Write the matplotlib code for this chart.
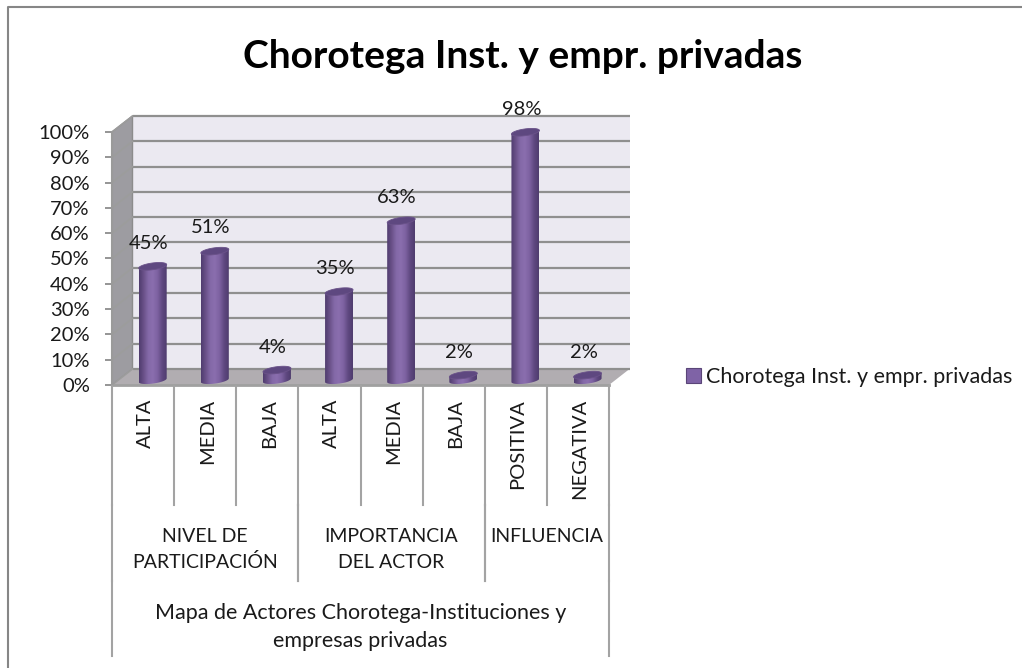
import numpy as np
import matplotlib
matplotlib.use("Agg")
import matplotlib.pyplot as plt
from matplotlib.lines import Line2D
from matplotlib.patches import Polygon, Patch
from matplotlib.transforms import Affine2D
from matplotlib.colors import LinearSegmentedColormap

# ---- data ----
title = "Chorotega Inst. y empr. privadas"
series_name = "Chorotega Inst. y empr. privadas"
categories = ["ALTA", "MEDIA", "BAJA", "ALTA", "MEDIA", "BAJA", "POSITIVA", "NEGATIVA"]
values = [45, 51, 4, 35, 63, 2, 98, 2]
groups = ["NIVEL DE\nPARTICIPACIÓN", "IMPORTANCIA\nDEL ACTOR", "INFLUENCIA"]
group_spans = [(0, 3), (3, 6), (6, 8)]
outer_label = "Mapa de Actores Chorotega-Instituciones y\nempresas privadas"
y_ticks = list(range(0, 101, 10))

FONT = "Lato"
TXT = "#1a1a1a"
W, H = 1022, 668
fig = plt.figure(figsize=(W / 100, H / 100), dpi=100, facecolor="white")

# axes: front plane of the 3-D box
L, R, T, B = 112, 609, 132, 385
ax = fig.add_axes([L / W, 1 - B / H, (R - L) / W, (B - T) / H])
ax.patch.set_alpha(0)
for s in ax.spines.values():
    s.set_visible(False)

ux = (R - L) / 8      # px per category
uy = (B - T) / 100    # px per percent
dx = 20.5 / ux        # depth, data units
dy = 16.0 / uy

GRID = "#8f8f8f"
GRID_L = "#9c9c9c"
ax.add_patch(Polygon([(dx, dy), (8 + dx, dy), (8 + dx, 100 + dy), (dx, 100 + dy)],
                     fc="#ebe9f1", ec="none", clip_on=False, zorder=1))
ax.add_patch(Polygon([(0, 0), (dx, dy), (dx, 100 + dy), (0, 100)],
                     fc="#9d9ca1", ec="#8c8c8c", lw=1, clip_on=False, zorder=1))
ax.add_patch(Polygon([(0, 0), (8, 0), (8 + dx, dy), (dx, dy)],
                     fc="#b1adb1", ec="none", clip_on=False, zorder=1))
for t in y_ticks:
    ax.plot([dx, 8 + dx], [t + dy, t + dy], color=GRID, lw=1.6, clip_on=False, zorder=2,
            solid_capstyle="butt")
    ax.plot([0, dx], [t, t + dy], color=GRID_L, lw=1.2, clip_on=False, zorder=2)
ax.plot([0, 8], [0, 0], color="#a0a0a0", lw=2, clip_on=False, zorder=3)
ax.plot([0, 0], [0, 100], color="#9a9a9a", lw=1.5, clip_on=False, zorder=3)

# ---- cylinders ----
cmap = LinearSegmentedColormap.from_list(
    "cyl", ["#4f3c6e", "#6a5189", "#8469a8", "#8a6eae", "#7d62a1", "#5f4880", "#4f3c6e"])
grad = np.linspace(0, 1, 128).reshape(1, -1)
half = 14 / ux
ry = 3.4 / uy
tilt = 1.8 / uy
th = np.linspace(0, 2 * np.pi, 73)
base = 4.8 / uy
for i, v in enumerate(values):
    cx = i + 0.5 + 0.155
    top_y = base + v
    ex = cx + half * np.cos(th)
    ey_top = top_y + ry * np.sin(th) + tilt * np.cos(th)
    low = th[th >= np.pi]
    body_x = np.r_[cx - half, cx + half * np.cos(low), cx + half, cx - half]
    body_y = np.r_[top_y - tilt, base + ry * np.sin(low) + tilt * np.cos(low), top_y + tilt, top_y - tilt]
    img = ax.imshow(grad, cmap=cmap, extent=(cx - half, cx + half, base - ry - tilt, top_y + ry + tilt),
                    aspect="auto", zorder=4, interpolation="bilinear")
    img.set_clip_path(Polygon(np.c_[body_x, body_y], transform=ax.transData))
    ax.add_patch(Polygon(np.c_[ex, ey_top], fc="#5e4880", ec="#6a5289", lw=0.6, clip_on=False, zorder=5))
    ax.text(cx - 0.065, top_y + 3.2 / uy + (11.5 / uy if v > 10 else 10.5 / uy), f"{v}%", ha="center", va="bottom",
            fontsize=14.5, family=FONT, color=TXT, zorder=6, clip_on=False)
ax.set_xlim(0, 8)
ax.set_ylim(0, 100)

# ---- axes ticks ----
ax.set_yticks(y_ticks)
ax.set_yticklabels([f"{t}%" for t in y_ticks], fontsize=14.5, family=FONT, color=TXT)
ax.tick_params(axis="y", length=5, width=1.3, color="#8c8c8c", pad=11)
ax.set_xticks(np.arange(8) + 0.5)
ax.set_xticklabels(categories, rotation=90, fontsize=14.5, family=FONT, color=TXT, va="top", ha="center")
ax.tick_params(axis="x", length=0, pad=10)
for lab in ax.get_xticklabels():
    lab.set_transform(lab.get_transform() + Affine2D().translate(2, 0))

# ---- multi-level category dividers ----
pixel = Affine2D().scale(1, -1).translate(0, H)
def vline(x, y0, y1, color="#a3a3a3", lw=1.5):
    fig.add_artist(Line2D([x, x], [y0, y1], color=color, lw=lw, transform=pixel))
def xpx(c):
    return L + c * ux

for c in range(9):
    vline(xpx(c), 386, 505)
for (s, e), g in zip(group_spans, groups):
    vline(xpx(s), 505, 581)
    vline(xpx(e), 505, 581)
    yc = 549.5 if "\n" in g else 536
    fig.text(xpx((s + e) / 2) / W, 1 - yc / H, g, ha="center", va="center", fontsize=14,
             family=FONT, color=TXT, linespacing=1.6)
vline(xpx(0), 581, 656)
vline(xpx(8), 581, 656)
fig.text(xpx(4) / W, 1 - 627 / H, outer_label, ha="center", va="center", fontsize=15.5,
         family=FONT, color=TXT, linespacing=1.5)

# ---- title, legend, frame ----
fig.text(523 / W, 1 - 57 / H, title, ha="center", va="center", fontsize=28, fontweight="bold",
         family=FONT, color="black")
handle = Patch(fc="#7f63a6", ec="#5a4578", lw=0.8)
fig.legend([handle], [series_name], loc="center left", bbox_to_anchor=(686 / W, 1 - 377 / H),
           frameon=False, prop={"family": FONT, "size": 15.5}, handlelength=0.7, handleheight=0.7,
           handletextpad=0.24, borderpad=0, borderaxespad=0, labelcolor=TXT)
fig.add_artist(Line2D([8, 8, W], [H, 7, 7], color="#868686", lw=1.5, transform=pixel))

fig.savefig("out.png", dpi=100, facecolor="white")
